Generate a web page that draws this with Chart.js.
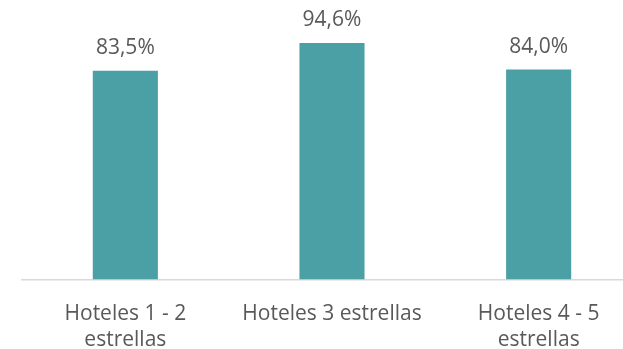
<!DOCTYPE html>
<html>
<head>
<meta charset="utf-8">
<script src="https://cdn.jsdelivr.net/npm/chart.js@4/dist/chart.umd.min.js"></script>
<style>
  html, body { margin: 0; padding: 0; background: #ffffff; overflow: hidden; }
  #wrap { width: 642px; height: 349px; }
</style>
</head>
<body>
<div id="wrap"><canvas id="c" width="642" height="349"></canvas></div>
<script>
// Occupancy share by hotel category
const categories = [
  ["Hoteles 1 - 2", "estrellas"],
  "Hoteles 3 estrellas",
  ["Hoteles 4 - 5", "estrellas"]
];
const values = [83.5, 94.6, 84.0];
const valueLabels = ["83,5%", "94,6%", "84,0%"];

const textColor = "#595959";
const barColor = "#4BA0A5";
const fontFamily = "'Open Sans', sans-serif";

// Writes each bar's value above it
const valueLabelPlugin = {
  id: "valueLabels",
  afterDatasetsDraw(chart) {
    const ctx = chart.ctx;
    const meta = chart.getDatasetMeta(0);
    ctx.save();
    ctx.fillStyle = textColor;
    ctx.font = "21px " + fontFamily;
    ctx.textAlign = "center";
    ctx.textBaseline = "alphabetic";
    meta.data.forEach((bar, i) => {
      ctx.fillText(valueLabels[i], bar.x, bar.y - 17);
    });
    ctx.restore();
  }
};

new Chart(document.getElementById("c"), {
  type: "bar",
  data: {
    labels: categories,
    datasets: [{
      data: values,
      backgroundColor: barColor,
      borderWidth: 0,
      categoryPercentage: 1,
      barPercentage: 0.315
    }]
  },
  options: {
    responsive: false,
    animation: false,
    layout: { padding: { left: 22, right: 0, top: 29.5, bottom: 0 } },
    plugins: {
      legend: { display: false },
      tooltip: { enabled: false }
    },
    scales: {
      y: {
        display: false,
        min: 0,
        max: 100
      },
      x: {
        grid: { display: false, drawTicks: false },
        border: { display: true, color: "#D9D9D9", width: 1.5 },
        ticks: {
          color: textColor,
          padding: 21.5,
          maxRotation: 0,
          autoSkip: false,
          font: { family: fontFamily, size: 21, lineHeight: 1.24 }
        },
        afterFit(scale) { scale.height = 69.5; }
      }
    }
  },
  plugins: [valueLabelPlugin]
});
</script>
</body>
</html>
